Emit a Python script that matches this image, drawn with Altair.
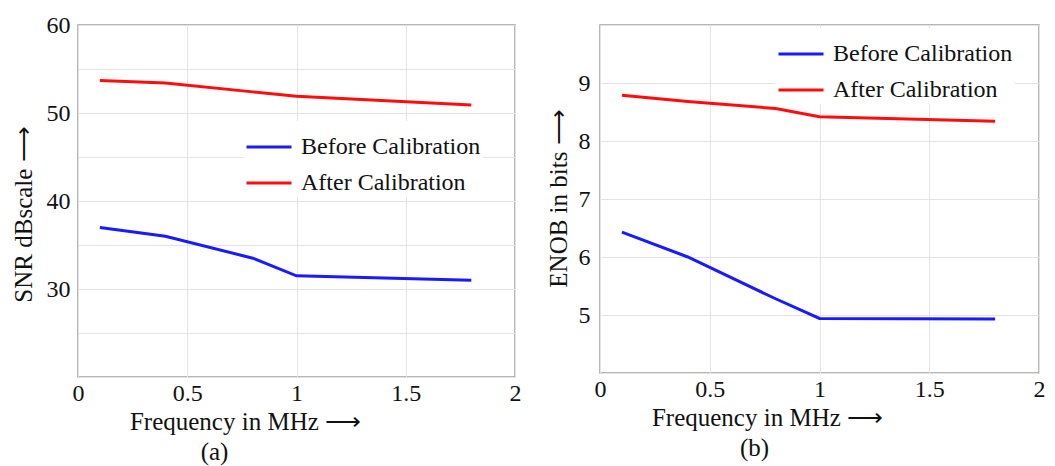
import altair as alt
import pandas as pd

freq = [0.1, 0.4, 0.8, 1.0, 1.8]
snr_before = [37.0, 36.0, 33.5, 31.5, 31.0]
snr_after = [53.7, 53.4, 52.4, 51.9, 50.9]
enob_before = [6.43, 6.0, 5.28, 4.94, 4.93]
enob_after = [8.79, 8.68, 8.56, 8.42, 8.34]
series = ["Before Calibration", "After Calibration"]
x_ticks = [0, 0.5, 1, 1.5, 2]
snr_ticks = [20, 25, 30, 35, 40, 45, 50, 55, 60]
enob_ticks = [4, 5, 6, 7, 8, 9, 10]

FONT = "Liberation Serif"
colors = ["#1a1aff", "#ff0d0d"]


def frame(before, after, yname):
    rows = []
    for f, b in zip(freq, before):
        rows.append({"freq": f, yname: b, "series": series[0]})
    for f, a in zip(freq, after):
        rows.append({"freq": f, yname: a, "series": series[1]})
    return pd.DataFrame(rows)


snr_df = frame(snr_before, snr_after, "snr")
enob_df = frame(enob_before, enob_after, "enob")

xaxis = dict(
    values=x_ticks, format="~g", labelFlush=False, ticks=False, domain=False,
    grid=True, gridColor="#e3e3e3", labelFont=FONT, labelFontSize=24,
    labelColor="#111", labelPadding=4, titleFont=FONT, titleFontSize=25,
    titleFontWeight="normal", titleColor="#111", titleX=167, titleAlign="center",
    titlePadding=4,
)


def legend(x, y):
    return alt.Legend(
        title=None, orient="none", legendX=x, legendY=y, symbolType="stroke",
        symbolSize=2025, symbolStrokeWidth=3, labelFont=FONT, labelFontSize=24,
        labelColor="#111", labelOffset=8, rowPadding=0, fillColor="white",
        padding=2, labelLimit=0,
    )


left = alt.Chart(snr_df).mark_line(strokeWidth=3).encode(
    x=alt.X("freq:Q", scale=alt.Scale(domain=[0, 2], nice=False),
            axis=alt.Axis(title="Frequency in MHz ⟶", **xaxis)),
    y=alt.Y("snr:Q", scale=alt.Scale(domain=[20, 60], nice=False),
            axis=alt.Axis(
                title="SNR dBscale  ⟶", values=snr_ticks,
                labelExpr="datum.value % 10 == 0 && datum.value > 20 ? datum.label : ''",
                ticks=False, domain=False, grid=True, gridColor="#e3e3e3",
                labelFont=FONT, labelFontSize=24, labelColor="#111", labelPadding=8,
                titleFont=FONT, titleFontSize=25, titleFontWeight="normal",
                titleColor="#111", titlePadding=10, titleY=189)),
    color=alt.Color("series:N", scale=alt.Scale(domain=series, range=colors),
                    sort=series, legend=legend(165, 96)),
).properties(
    width=437, height=352,
    title=alt.TitleParams("(a)", orient="bottom", anchor="middle", dx=-82,
                          font=FONT, fontSize=25, fontWeight="normal",
                          color="#111", offset=6),
)

right = alt.Chart(enob_df).mark_line(strokeWidth=3).encode(
    x=alt.X("freq:Q", scale=alt.Scale(domain=[0, 2], nice=False),
            axis=alt.Axis(title="Frequency in MHz ⟶", **xaxis)),
    y=alt.Y("enob:Q", scale=alt.Scale(domain=[4, 10], nice=False),
            axis=alt.Axis(
                title="ENOB in bits  ⟶", values=enob_ticks,
                labelExpr="datum.value >= 5 && datum.value <= 9 ? datum.label : ''",
                ticks=False, domain=False, grid=True, gridColor="#e3e3e3",
                labelFont=FONT, labelFontSize=24, labelColor="#111", labelPadding=10,
                titleFont=FONT, titleFontSize=25, titleFontWeight="normal",
                titleColor="#111", titlePadding=7, titleY=173)),
    color=alt.Color("series:N", scale=alt.Scale(domain=series, range=colors),
                    sort=series, legend=legend(175, 3)),
).properties(
    width=439, height=348,
    title=alt.TitleParams("(b)", orient="bottom", anchor="middle", dx=-65,
                          font=FONT, fontSize=25, fontWeight="normal",
                          color="#111", offset=6),
)

chart = alt.hconcat(left, right, spacing=23).resolve_scale(color="independent").properties(
    padding={"left": 10, "top": 12, "right": 0, "bottom": 0},
    background="white",
).configure_view(stroke="#a0a0a0", strokeWidth=1.5)

chart.save("out.html", embed_options={"renderer": "svg", "actions": False})
